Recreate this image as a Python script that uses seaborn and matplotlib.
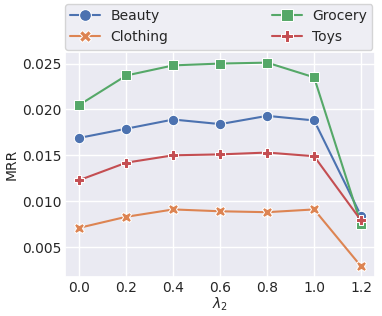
import numpy as np
import pandas as pd
import matplotlib
matplotlib.use("Agg")
import matplotlib.pyplot as plt
import seaborn as sns

lambdas = [0.0, 0.2, 0.4, 0.6, 0.8, 1.0, 1.2]
beauty = [0.0169, 0.0179, 0.0189, 0.0184, 0.0193, 0.0188, 0.0084]
clothing = [0.0071, 0.0083, 0.0091, 0.0089, 0.0088, 0.0091, 0.0029]
grocery = [0.0205, 0.0237, 0.0248, 0.0250, 0.0251, 0.0235, 0.0075]
toys = [0.0123, 0.0142, 0.0150, 0.0151, 0.0153, 0.0149, 0.0079]
datasets = ["Beauty", "Clothing", "Grocery", "Toys"]

series = {"Beauty": beauty, "Clothing": clothing, "Grocery": grocery, "Toys": toys}
df = pd.DataFrame([
    {"lambda": l, "MRR": v, "dataset": name}
    for name in datasets for l, v in zip(lambdas, series[name])
])

sns.set_theme(style="darkgrid", palette="deep")
plt.rcParams["font.family"] = ["DejaVu Sans"]

fig = plt.figure(figsize=(3.82, 3.16), dpi=100)
ax = fig.add_axes([0.171, 0.125, 0.811, 0.709])

sns.lineplot(data=df, x="lambda", y="MRR", hue="dataset", style="dataset",
             markers=["o", "X", "s", "P"], dashes=False, markersize=7.5,
             linewidth=1.5, ax=ax, hue_order=datasets, style_order=datasets)

ax.set_xticks(lambdas)
ax.set_xticklabels([f"{l:.1f}" for l in lambdas])
ax.set_yticks([0.005, 0.010, 0.015, 0.020, 0.025])
ax.set_yticklabels(["0.005", "0.010", "0.015", "0.020", "0.025"])
ax.tick_params(labelsize=10, pad=3, length=0)
ax.set_xlabel(r"$\lambda_2$", fontsize=10, labelpad=1)
ax.set_ylabel("MRR", fontsize=10, labelpad=2)

handles, labels = ax.get_legend_handles_labels()
for h in handles:
    h.set_markersize(8.5)
if ax.get_legend():
    ax.get_legend().remove()
fig.legend(handles, labels, ncol=2, loc="upper left",
           bbox_to_anchor=(65 / 382, 1 - 4 / 316),
           fontsize=10, borderaxespad=0, handlelength=2.16,
           columnspacing=7.5, labelspacing=0.5, borderpad=0.38,
           handletextpad=0.72, frameon=True)

fig.savefig("out.png", dpi=100)
